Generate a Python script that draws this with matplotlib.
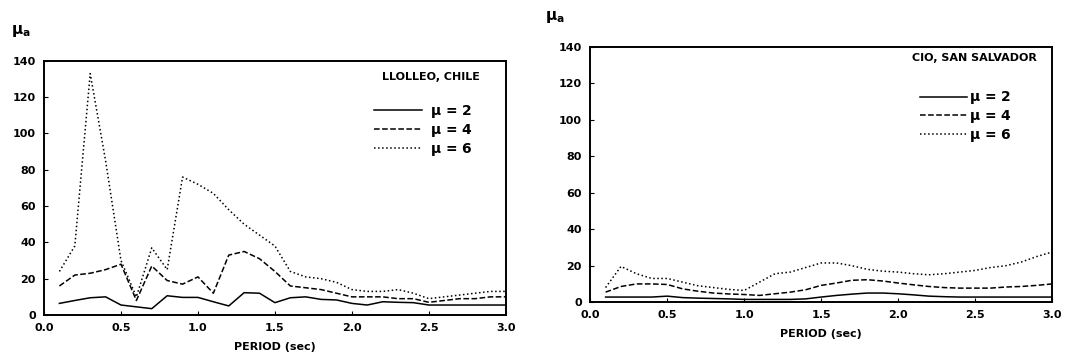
import matplotlib
matplotlib.use('Agg')
import matplotlib.pyplot as plt
import numpy as np

# periods (sec)
period = np.round(np.arange(0.1, 3.01, 0.1), 1)

# LLOLLEO, CHILE
llolleo_mu2 = [6.4, 8, 9.5, 10, 5.5, 4.5, 3.5, 10.6, 9.7, 9.7,
               7.3, 5, 12.3, 12, 6.8, 9.5, 10, 8.6, 8.3, 6.4,
               5.5, 7.3, 7, 6.8, 5.5, 5.5, 5.5, 5.5, 5.5, 5.5]
llolleo_mu4 = [16, 22, 23, 25, 28, 8, 27, 19, 17, 21,
               12, 33, 35, 31, 24, 16, 15, 14, 12, 10,
               10, 10, 9, 9, 7, 8, 9, 9, 10, 10]
llolleo_mu6 = [24, 38, 133, 85, 30, 10, 37, 25, 76, 72,
               67, 58, 50, 44, 38, 24, 21, 20, 18, 14,
               13, 13, 14, 12, 9, 10, 11, 12, 13, 13]

# CIO, SAN SALVADOR
cio_mu2 = [2.8, 2.8, 2.8, 2.8, 3.3, 2.5, 2.2, 2, 1.8, 1.5,
           1.5, 1.5, 1.5, 1.8, 2.8, 3.7, 4.4, 5, 5, 4.6,
           4, 3.3, 3, 2.8, 2.8, 2.8, 2.8, 2.8, 2.8, 2.8]
cio_mu4 = [5.5, 8.6, 10, 10, 9.7, 7.3, 6, 5, 4.5, 4.2,
           3.7, 4.6, 5.5, 6.8, 9.2, 10.5, 12, 12.3, 11.6, 10.5,
           9.5, 8.6, 8, 7.7, 7.7, 7.7, 8.3, 8.6, 9.2, 10]
cio_mu6 = [8, 19.6, 15.6, 13, 13, 11, 9, 8, 7, 6.4,
           11, 15.6, 16.5, 19, 21.5, 21.5, 20, 18, 17, 16.5,
           15.6, 15, 15.6, 16.5, 17.4, 19, 20, 22, 25, 27.5]

labels = [r'$\mathbf{\mu}$ = 2', r'$\mathbf{\mu}$ = 4', r'$\mathbf{\mu}$ = 6']
styles = ['-', '--', ':']

fig = plt.figure(figsize=(10.79, 3.61), dpi=100)
ax1 = fig.add_axes([0.0408, 0.1274, 0.428, 0.704])
ax2 = fig.add_axes([0.547, 0.163, 0.428, 0.707])


def panel(ax, series, title, leg_anchor, title_pos, textpad):
    for y, ls, lab in zip(series, styles, labels):
        ax.plot(period, y, color='k', ls=ls, lw=1.1, label=lab)
    ax.set_xlim(0, 3)
    ax.set_ylim(0, 140)
    ax.set_xticks(np.arange(0, 3.01, 0.5))
    ax.set_yticks(np.arange(0, 141, 20))
    ax.set_xticklabels([f'{v:.1f}' for v in np.arange(0, 3.01, 0.5)])
    ax.tick_params(direction='in', length=3, labelsize=8, pad=6)
    for lab in ax.get_xticklabels() + ax.get_yticklabels():
        lab.set_fontweight('bold')
    for sp in ax.spines.values():
        sp.set_linewidth(1.4)
    ax.set_xlabel('PERIOD (sec)', fontsize=8, fontweight='bold', labelpad=6)
    ax.text(title_pos[0], title_pos[1], title, transform=ax.transAxes,
            ha='right', va='center', fontsize=8, fontweight='bold')
    leg = ax.legend(loc='upper right', bbox_to_anchor=leg_anchor, frameon=False,
                    handlelength=3.4, handletextpad=textpad, labelspacing=0.12,
                    borderaxespad=0, prop={'size': 10, 'weight': 'bold'})
    return leg


panel(ax1, [llolleo_mu2, llolleo_mu4, llolleo_mu6], 'LLOLLEO, CHILE',
      (0.94, 0.855), (0.944, 0.937), 0.6)
panel(ax2, [cio_mu2, cio_mu4, cio_mu6], 'CIO, SAN SALVADOR',
      (0.925, 0.855), (0.968, 0.957), 0.15)

fig.text(0.01, 0.915, r'$\mathbf{\mu_a}$', fontsize=11, ha='left', va='center')
fig.text(0.505, 0.953, r'$\mathbf{\mu_a}$', fontsize=11, ha='left', va='center')

fig.savefig('out.png', dpi=100)
